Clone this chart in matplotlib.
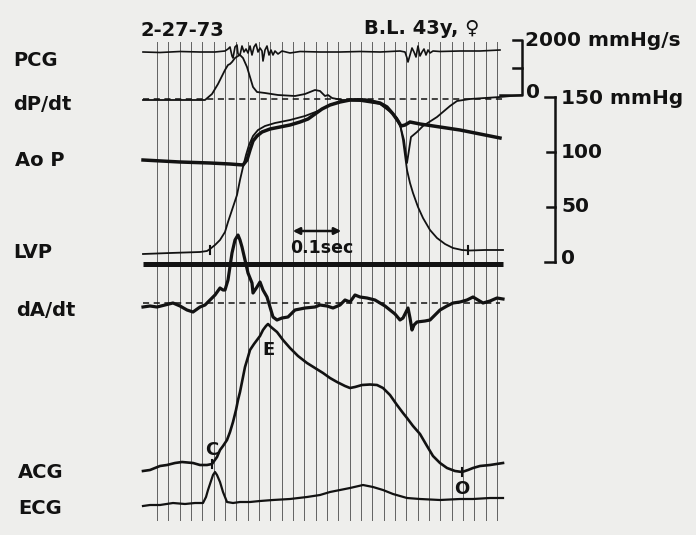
import matplotlib
matplotlib.use("Agg")
import matplotlib.pyplot as plt

PCG = [(143,52),(160,52.5),(180,51.5),(200,52),(215,52),(225,51),(228,49),(230,47),(232,56),(233,58),
       (235,47),(237,45),(238,54),(240,55),(242,46),(244,52),(246,49),(248,53),(250,46),(252,55),
       (254,47),(256,44),(258,52),(260,48),(262,51),(263,61),(265,50),(267,46),(269,55),(271,50),
       (273,55),(275,51),(278,54),(282,51),(290,53),(300,51.5),(320,52),(340,52),(360,51.5),(380,52),
       (400,51),(405,52),(407,58),(408,62),(410,55),(412,48),(414,52),(416,57),(418,46),(420,56),
       (422,52),(424,49),(426,55),(428,50),(430,53),(433,51),(440,51.5),(460,51),(480,51),(500,50)]

DPDT = [(143,100),(180,100),(205,100),(212,94),(218,84),(222,76),(225,70),(228,65),(230,64),(232,62),
        (235,58),(238,56),(240,55),(243,58),(247,67),(250,77),(253,87),(257,92),(265,93),(278,95),
        (295,96),(305,94),(310,92),(315,90),(320,91),(325,96),(328,95),(332,98),(342,100),(360,101),
        (380,104),(393,114),(400,125),(404,140),(407,163),(409,150),(411,137),(417,132),(423,126),
        (437,117),(450,106),(457,101),(470,99),(500,97),(522,95)]

AOP = [(143,160),(180,162),(210,163),(230,164),(243,165),(247,160),(250,150),(253,141),(257,136),
       (262,132),(270,129),(280,127),(290,125),(300,122),(308,119),(315,114),(322,109),(330,105),
       (340,102),(350,100),(365,100),(380,103),(387,107),(393,114),(398,121),(401,126),(405,125),
       (410,122),(420,124),(440,127),(460,130),(480,134),(500,138)]

LVP = [(143,254),(170,253),(200,252),(207,251),(210,249),(215,245),(220,240),(225,232),(228,222),
       (232,210),(237,195),(240,180),(243,167),(246,155),(249,145),(253,136),(258,130),(265,126),
       (275,123),(290,120),(305,116),(318,111),(330,105),(342,101),(355,99),(370,100),(380,103),
       (390,110),(397,118),(400,124),(403,140),(405,155),(407,170),(410,183),(413,193),(418,207),
       (423,218),(430,230),(437,238),(445,244),(453,248),(462,250),(470,250.5),(485,250),(503,250)]

DADT = [(143,307),(150,306),(157,307),(165,305),(173,303),(180,306),(187,310),(193,312),(200,307),
        (205,305),(210,300),(215,295),(220,288),(223,290),(225,290),(228,280),(232,253),(235,240),
        (238,235),(240,240),(242,247),(245,260),(248,273),(252,283),(253,293),(257,287),(260,282),
        (263,290),(267,297),(270,307),(273,317),(277,320),(282,318),(288,317),(295,310),(305,308),
        (315,307),(320,305),(327,306),(333,308),(340,305),(345,300),(350,302),(355,295),(360,297),
        (367,298),(375,300),(380,303),(385,306),(390,310),(395,314),(400,320),(403,318),(405,314),
        (408,308),(410,318),(412,330),(414,325),(417,322),(425,321),(430,320),(435,315),(440,310),
        (447,306),(453,303),(460,302),(467,300),(473,297),(478,300),(483,303),(490,301),(497,298),
        (503,299)]

ACG = [(143,471),(150,470),(160,466),(167,465),(175,463),(182,462),(193,463),(200,465),(207,465),
       (212,464),(217,457),(220,450),(223,446),(227,440),(230,432),(233,422),(236,410),(238,400),
       (240,392),(243,377),(245,367),(248,357),(250,350),(254,344),(257,340),(260,336),(263,330),
       (266,326),(268,324),(271,327),(277,332),(283,340),(290,348),(298,356),(307,363),(315,368),
       (323,373),(330,378),(337,382),(345,386),(350,388),(355,387),(362,385),(370,384.5),(377,385),
       (383,388),(390,395),(397,405),(403,413),(407,418),(413,426),(420,434),(427,446),(433,456),
       (440,463),(447,468),(455,471),(462,472),(468,470),(473,468),(480,466),(490,465),(503,463)]

ECG = [(143,506),(150,505),(160,505),(173,503),(185,504),(195,503),(203,503),(206,497),(208,490),
       (211,481),(213,475),(215,472),(217,475),(220,482),(223,492),(227,502),(233,503),(240,502),
       (250,502),(260,501),(273,500),(290,499),(307,497),(320,495),(330,492),(340,490),(350,488),
       (363,485),(373,487),(383,490),(393,494),(407,498),(420,499),(440,500),(460,499),(473,499),
       (490,498),(503,498)]

CHANNEL_LABELS = ["PCG", "dP/dt", "Ao P", "LVP", "dA/dt", "ACG", "ECG"]
CHANNEL_LABEL_Y = [60, 104, 161, 253, 311, 472, 508]
CHANNEL_LABEL_X = [13, 13, 15, 13, 16, 18, 18]

DPDT_SCALE_LABELS = ["2000 mmHg/s", "0"]
PRESSURE_TICKS = [150, 100, 50, 0]
PRESSURE_TICK_LABELS = ["150 mmHg", "100", "50", "0"]

POINT_LABELS = ["E", "C", "O"]
POINT_XY = [(268, 350), (212, 450), (462, 489)]

# ---------------- figure -------------
W, H, DPI = 696, 535, 100
INK = "#121212"
PAPER = "#eeeeec"
fig = plt.figure(figsize=(W / DPI, H / DPI), dpi=DPI, facecolor=PAPER)
ax = fig.add_axes([0, 0, 1, 1])
ax.set_xlim(0, W)
ax.set_ylim(H, 0)
ax.set_facecolor(PAPER)
ax.axis("off")

FONT = dict(family="DejaVu Sans", weight="bold", color=INK)

# time grid (vertical lines)
grid_x0, grid_step, n_grid = 157, 11.33, 31
for i in range(n_grid):
    gx = grid_x0 + i * grid_step
    ax.plot([gx, gx], [42, 520], color="#333333", lw=0.7, alpha=0.75, zorder=1)

# reference lines
ax.plot([143, 505], [99, 99], color=INK, lw=1.1, ls=(0, (4, 3)), zorder=2)
ax.plot([143, 500], [303, 303], color=INK, lw=1.1, ls=(0, (4, 3)), zorder=2)
ax.plot([143, 503], [264, 264], color=INK, lw=3.6, solid_capstyle="butt", zorder=3)


def trace(pts, lw):
    xs = [p[0] for p in pts]
    ys = [p[1] for p in pts]
    ax.plot(xs, ys, color=INK, lw=lw, solid_joinstyle="round", zorder=4)


trace(PCG, 1.2)
trace(DPDT, 1.3)
trace(AOP, 2.5)
trace(LVP, 1.3)
trace(DADT, 2.3)
trace(ACG, 1.9)
trace(ECG, 1.6)

# small event marks
for mx, my in [(210, 250), (468, 250), (212, 464), (462, 472)]:
    ax.plot([mx, mx], [my - 4, my + 4], color=INK, lw=1.5, zorder=5)

# dP/dt scale bracket
ax.plot([513, 522, 522, 500], [40, 40, 95, 95], color=INK, lw=1.8, zorder=4)
ax.plot([513, 522], [68, 68], color=INK, lw=1.8, zorder=4)
ax.text(525, 41, DPDT_SCALE_LABELS[0], ha="left", va="center", fontsize=14.5, **FONT)
ax.text(526, 92, DPDT_SCALE_LABELS[1], ha="left", va="center", fontsize=14.5, **FONT)

# pressure scale
p_top, p_bot = 97, 262
def p2y(v):
    return p_bot - (p_bot - p_top) * v / 150.0
ax.plot([555, 555], [p2y(150), p2y(0)], color=INK, lw=1.8, zorder=4)
for v, lab in zip(PRESSURE_TICKS, PRESSURE_TICK_LABELS):
    y = p2y(v)
    x0 = 545 if v in (150, 0) else 547
    ax.plot([x0, 555], [y, y], color=INK, lw=1.8, zorder=4)
    ax.text(561, y - (3 if v == 0 else 0) + (1 if v == 150 else 0), lab, ha="left",
            va="center", fontsize=14.5, **FONT)

# header texts
ax.text(140, 31, "2-27-73", ha="left", va="center", fontsize=14, **FONT)
ax.text(364, 28, "B.L. 43y, \u2640", ha="left", va="center", fontsize=14, **FONT)

# channel labels
for lab, lx, ly in zip(CHANNEL_LABELS, CHANNEL_LABEL_X, CHANNEL_LABEL_Y):
    ax.text(lx, ly, lab, ha="left", va="center", fontsize=14, **FONT)

# time calibration
ax.annotate("", xy=(290, 231), xytext=(344, 231),
            arrowprops=dict(arrowstyle="<|-|>", color=INK, lw=1.8, mutation_scale=10))
ax.text(290, 248, "0.1sec", ha="left", va="center", fontsize=12.5, **FONT)

for lab, (px, py) in zip(POINT_LABELS, POINT_XY):
    ax.text(px, py, lab, ha="center", va="center", fontsize=13, **FONT)

fig.savefig("out.png", dpi=DPI, facecolor=PAPER)
